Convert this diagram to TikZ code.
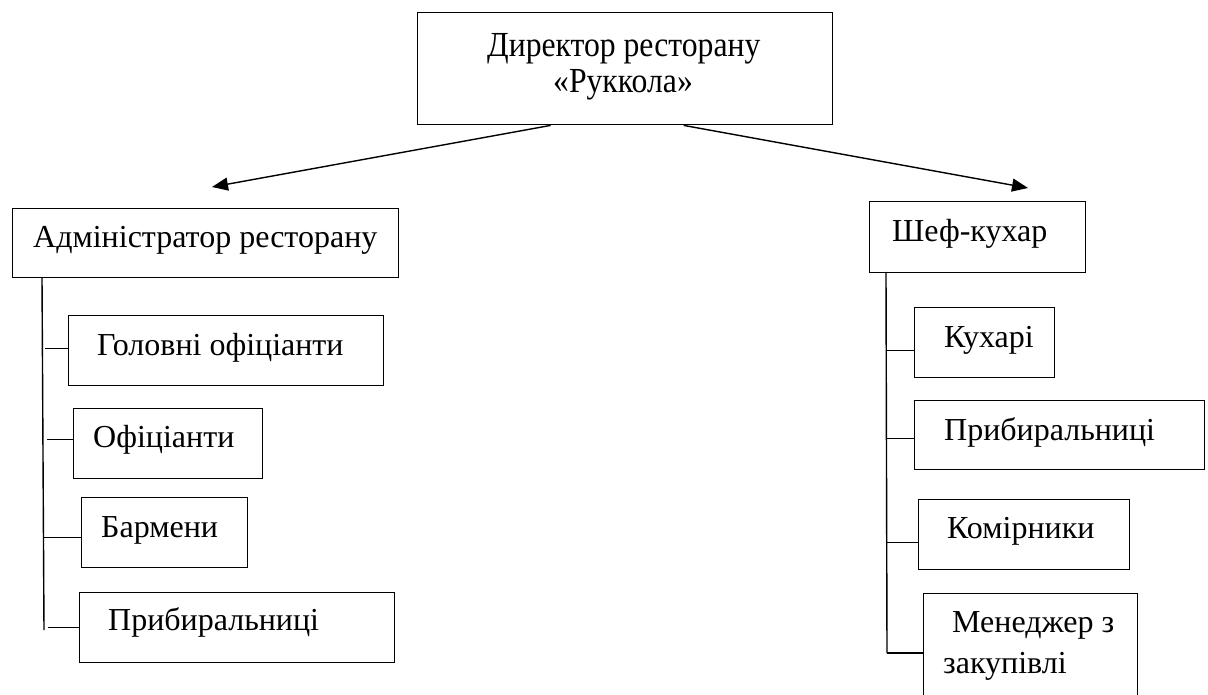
\documentclass[tikz,border=0pt]{standalone}
\usepackage{fontspec}
\setmainfont{Liberation Serif}
\usetikzlibrary{arrows.meta,calc}
\begin{document}
\begin{tikzpicture}[x=1pt,y=-1pt,
  box/.style={draw=black,line width=1.4pt,inner sep=0pt,anchor=north west},
  txt/.style={anchor=base west,inner sep=0pt,font=\fontsize{32}{38}\selectfont},
  conn/.style={draw=black,line width=1.4pt},
  arr/.style={conn,-{Triangle[length=16pt,width=13pt]}}]
\useasboundingbox (0,0) rectangle (1208,695);
\clip (0,0) rectangle (1208,695);
\fill[white] (0,0) rectangle (1208,695);
% top
\node[box,minimum width=415pt,minimum height=112pt] (dir) at (417,12) {};
\node[txt] (dirA) at (487,57) {\scalebox{0.99}[1.1]{Директор ресторану}};
\node[txt] (dirB) at (553,93) {\scalebox{0.99}[1.1]{«Руккола»}};
% level 2
\node[box,minimum width=386pt,minimum height=69pt] (adm) at (12,208) {};
\node[txt] (admT) at (33,248) {Адміністратор ресторану};
\node[box,minimum width=216pt,minimum height=71pt] (chef) at (869,201) {};
\node[txt] (chefT) at (892,242) {Шеф-кухар};
% arrows
\coordinate (aL) at (212,187);
\coordinate (aR) at (1028,188);
\draw[arr] ($(dir.south)+(-74.5,0)$) -- (aL);
\draw[arr] ($(dir.south)+(58.5,0)$) -- (aR);
% left children
\node[box,minimum width=315pt,minimum height=70pt] (l1) at (68,315) {};
\node[txt] (l1T) at (97,355) {Головні офіціанти};
\node[box,minimum width=189pt,minimum height=70pt] (l2) at (73,408) {};
\node[txt] (l2T) at (93,447) {Офіціанти};
\node[box,minimum width=166pt,minimum height=70pt] (l3) at (81,497) {};
\node[txt] (l3T) at (101,537) {Бармени};
\node[box,minimum width=315pt,minimum height=70pt] (l4) at (79,592) {};
\node[txt] (l4T) at (108,630) {Прибиральниці};
% right children
\node[box,minimum width=140pt,minimum height=70pt] (r1) at (914,307) {};
\node[txt] (r1T) at (944,347) {Кухарі};
\node[box,minimum width=290pt,minimum height=69pt] (r2) at (914,400) {};
\node[txt] (r2T) at (944,440) {Прибиральниці};
\node[box,minimum width=211pt,minimum height=70pt] (r3) at (918,499) {};
\node[txt] (r3T) at (947,538) {Комірники};
\node[box,minimum width=214pt,minimum height=130pt] (r4) at (923,593) {};
\node[txt] (r4T) at (952,632) {Менеджер з};
\node[txt] (r4U) at (943,673) {закупівлі};
% left tree
\coordinate (lvTop) at (42,277);
\coordinate (lvBot) at (44,630);
\draw[conn] (lvTop) -- (lvBot);
\draw[conn] ($(l1.west)+(0,-2)$) -- ++(-23,0);
\draw[conn] ($(l2.west)+(0,-4)$) -- ++(-26,0);
\draw[conn] ($(l3.west)+(0,5)$) -- ++(-37,0);
\draw[conn] ($(l4.west)+(0,0)$) -- ++(-31,0);
% right tree
\coordinate (rvTop) at (886,272);
\coordinate (rvBot) at (887,653);
\draw[conn] (rvTop) -- (rvBot);
\draw[conn] ($(r1.west)+(0,8)$) -- ++(-28,0);
\draw[conn] ($(r2.west)+(0,3.5)$) -- ++(-28,0);
\draw[conn] ($(r3.west)+(0,8)$) -- ++(-32,0);
\draw[conn] ($(r4.north west)+(0,60)$) -- ++(-36,0);
\end{tikzpicture}
\end{document}
